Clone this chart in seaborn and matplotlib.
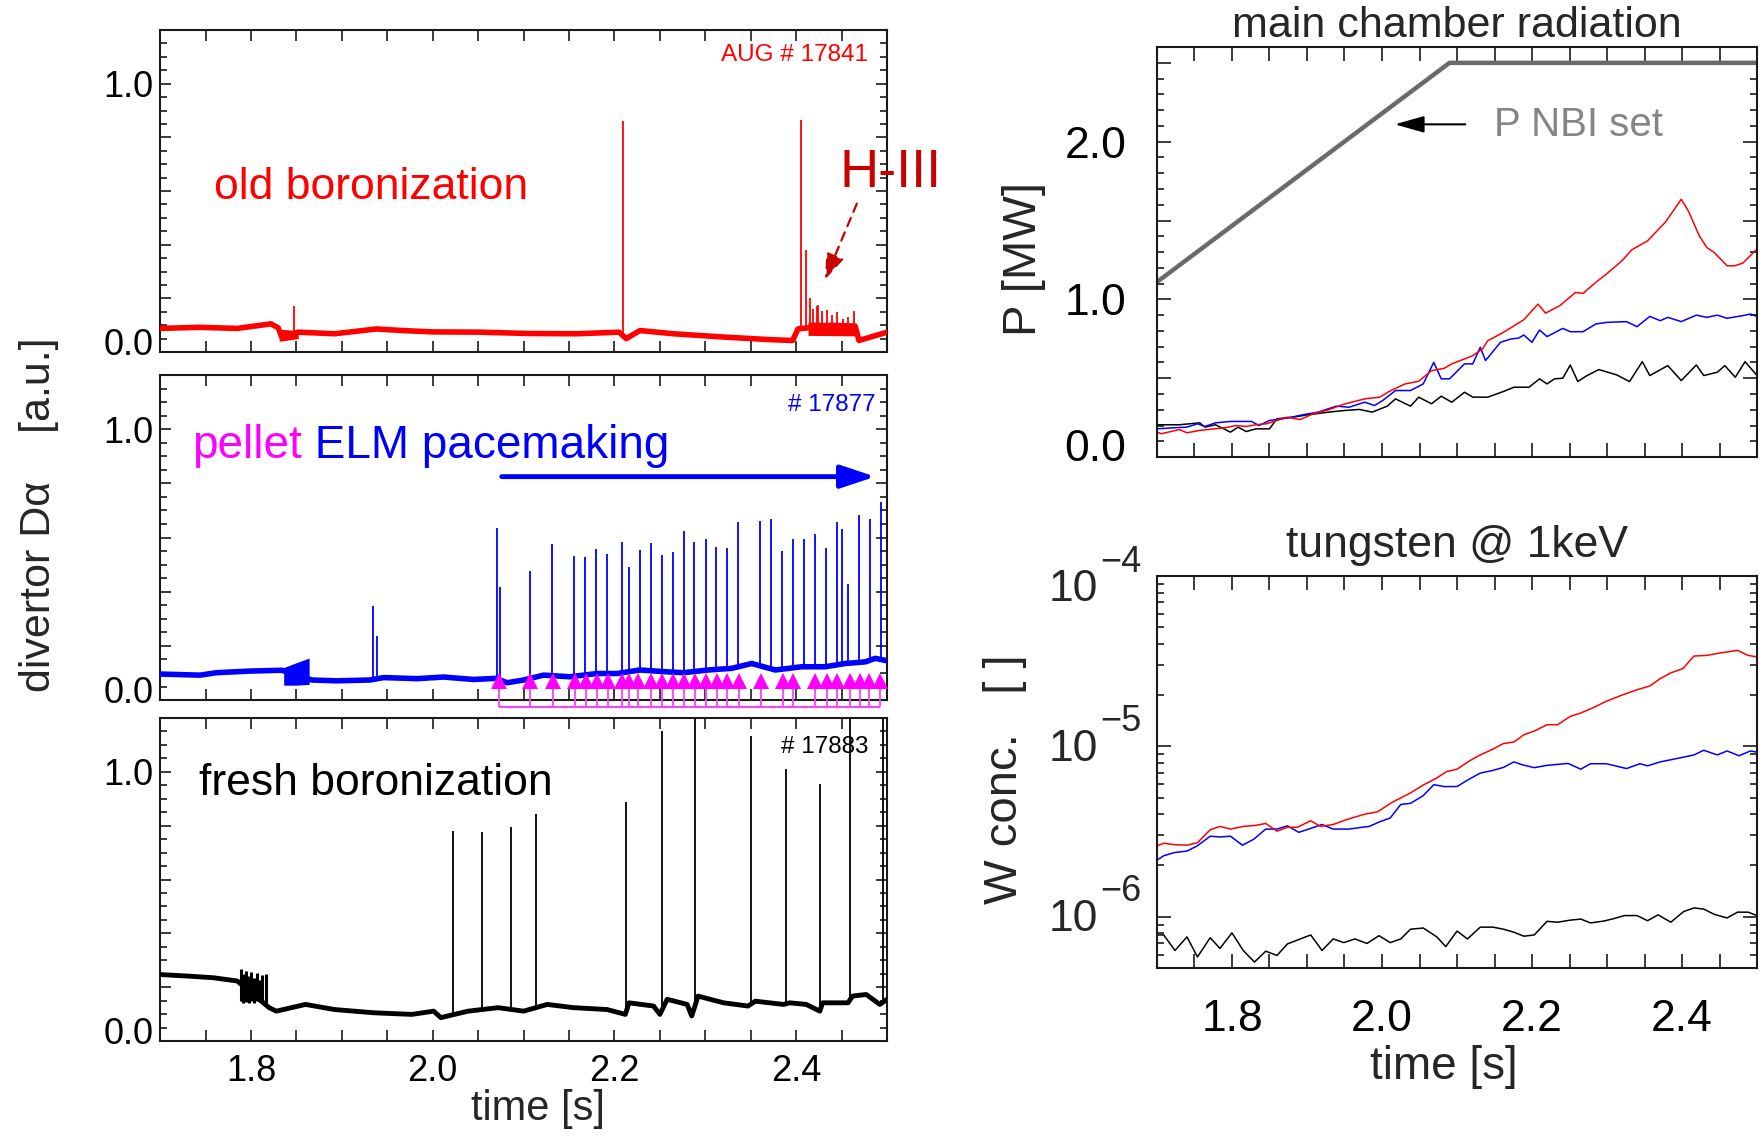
import numpy as np
import matplotlib
matplotlib.use("Agg")
import matplotlib.pyplot as plt
import seaborn as sns
from matplotlib.transforms import ScaledTranslation
from matplotlib.ticker import (FixedLocator, MultipleLocator, FuncFormatter,
                               LogLocator, NullFormatter)

# ------------------------------------------------------------------ data
# --- AUG #17841 (old boronization), divertor D-alpha [a.u.]
red_base_t = [1.700, 1.743, 1.785, 1.822, 1.830, 1.834, 1.852, 1.892, 1.938, 1.967,
              2.000, 2.052, 2.105, 2.159, 2.205, 2.213, 2.228, 2.265, 2.319, 2.372,
              2.396, 2.402, 2.440, 2.465, 2.469, 2.500]
red_base_v = [0.088, 0.092, 0.088, 0.105, 0.090, 0.055, 0.074, 0.068, 0.086, 0.080,
              0.075, 0.074, 0.069, 0.068, 0.074, 0.050, 0.080, 0.068, 0.056, 0.046,
              0.043, 0.086, 0.100, 0.095, 0.043, 0.074]
red_spike_t = [1.847, 2.2093, 2.4053, 2.4105, 2.4153, 2.4182, 2.4226, 2.4244, 2.4281,
               2.4336, 2.4391, 2.4446, 2.4519, 2.4574, 2.4637]
red_spike_v = [0.170, 0.860, 0.866, 0.380, 0.203, 0.160, 0.172, 0.175, 0.153,
               0.157, 0.137, 0.150, 0.122, 0.130, 0.153]
red_burst_t = [1.831, 1.852]
red_burst_lo = [0.040, 0.050]
red_burst_hi = [0.085, 0.080]
red_h3_t = [2.413, 2.466]
red_h3_lo = [0.062, 0.060]
red_h3_hi = [0.112, 0.108]

# --- #17877 (pellet ELM pacemaking)
blue_base_t = [1.700, 1.744, 1.762, 1.799, 1.834, 1.867, 1.894, 1.931, 1.946, 1.983,
               2.012, 2.045, 2.069, 2.082, 2.100, 2.122, 2.151, 2.181, 2.203, 2.228,
               2.254, 2.276, 2.303, 2.329, 2.351, 2.377, 2.406, 2.432, 2.454, 2.476,
               2.487, 2.500]
blue_base_v = [0.096, 0.092, 0.101, 0.107, 0.110, 0.074, 0.071, 0.074, 0.083, 0.079,
               0.085, 0.076, 0.080, 0.064, 0.074, 0.092, 0.086, 0.098, 0.098, 0.111,
               0.105, 0.101, 0.111, 0.117, 0.135, 0.111, 0.123, 0.123, 0.135, 0.141,
               0.154, 0.145]
blue_spike_t = [1.9347, 1.9385, 2.0709, 2.0745, 2.1072, 2.1314, 2.1556, 2.1677, 2.1798,
                2.1915, 2.2081, 2.2157, 2.2282, 2.2400, 2.2521, 2.2642, 2.2763, 2.2876,
                2.3005, 2.3122, 2.3243, 2.3364, 2.3606, 2.3727, 2.3845, 2.3966, 2.4087,
                2.4208, 2.4329, 2.4450, 2.4501, 2.4571, 2.4688, 2.4813, 2.4934]
blue_spike_v = [0.347, 0.236, 0.636, 0.418, 0.478, 0.576, 0.533, 0.527, 0.559,
                0.539, 0.582, 0.490, 0.553, 0.579, 0.535, 0.547, 0.624, 0.585,
                0.593, 0.567, 0.560, 0.659, 0.662, 0.667, 0.551, 0.593, 0.595,
                0.614, 0.560, 0.659, 0.633, 0.427, 0.683, 0.668, 0.730]
blue_burst_t = [1.836, 1.850, 1.864]
blue_burst_lo = [0.055, 0.055, 0.058]
blue_burst_hi = [0.120, 0.138, 0.155]
pellet_t = [2.0727, 2.1074, 2.1319, 2.1561, 2.1689, 2.1806, 2.1927, 2.2088, 2.2165,
            2.2256, 2.2399, 2.2523, 2.2644, 2.2768, 2.2885, 2.3010, 2.3123, 2.3237,
            2.3372, 2.3610, 2.3855, 2.3965, 2.4210, 2.4342, 2.4448, 2.4587, 2.4704,
            2.4806, 2.4927]

# --- #17883 (fresh boronization)
black_base_t = [1.700, 1.732, 1.759, 1.785, 1.820, 1.828, 1.860, 1.892, 1.935, 1.977,
                2.001, 2.009, 2.039, 2.072, 2.100, 2.126, 2.155, 2.192, 2.212, 2.216,
                2.243, 2.250, 2.258, 2.280, 2.285, 2.292, 2.320, 2.347, 2.355, 2.386,
                2.393, 2.411, 2.426, 2.429, 2.457, 2.462, 2.477, 2.492, 2.500]
black_base_v = [0.247, 0.241, 0.235, 0.223, 0.124, 0.111, 0.136, 0.117, 0.105, 0.099,
                0.111, 0.087, 0.111, 0.124, 0.111, 0.136, 0.124, 0.117, 0.099, 0.142,
                0.130, 0.099, 0.155, 0.136, 0.093, 0.167, 0.142, 0.130, 0.148, 0.136,
                0.142, 0.136, 0.111, 0.142, 0.142, 0.167, 0.173, 0.136, 0.155]
black_spike_t = [2.0226, 2.0541, 2.0859, 2.1140, 2.2127, 2.2522, 2.2887, 2.3500,
                 2.3885, 2.4265, 2.4587, 2.4952]
black_spike_v = [0.779, 0.777, 0.795, 0.844, 0.888, 1.150, 1.400, 1.132,
                 1.010, 0.955, 1.400, 1.300]
# oscillating burst around 1.79-1.82 s: individual excursions
black_burst_t = [1.7885, 1.7915, 1.7945, 1.7975, 1.8005, 1.8035, 1.8065, 1.8095,
                 1.8125, 1.8160]
black_burst_lo = [0.150, 0.140, 0.145, 0.140, 0.150, 0.142, 0.150, 0.145, 0.148, 0.130]
black_burst_hi = [0.266, 0.250, 0.262, 0.240, 0.255, 0.235, 0.252, 0.225, 0.245, 0.250]

# --- main chamber radiation [MW]
nbi_t = [1.70, 2.09, 2.50]
nbi_v = [1.11, 2.50, 2.50]

prad_red_t = [1.700, 1.706, 1.730, 1.740, 1.757, 1.778, 1.791, 1.805, 1.819, 1.832,
              1.846, 1.860, 1.874, 1.891, 1.908, 1.929, 1.949, 1.977, 1.997, 2.011,
              2.031, 2.049, 2.066, 2.083, 2.093, 2.121, 2.134, 2.141, 2.162, 2.189,
              2.208, 2.218, 2.237, 2.258, 2.268, 2.285, 2.299, 2.320, 2.333, 2.354,
              2.378, 2.399, 2.409, 2.423, 2.433, 2.443, 2.460, 2.470, 2.481, 2.500]
prad_red_v = [0.158, 0.148, 0.175, 0.154, 0.169, 0.180, 0.186, 0.200, 0.194, 0.205,
              0.211, 0.232, 0.253, 0.238, 0.274, 0.300, 0.335, 0.369, 0.380, 0.420,
              0.464, 0.481, 0.548, 0.563, 0.591, 0.643, 0.686, 0.738, 0.791, 0.871,
              0.970, 0.913, 0.960, 1.044, 1.038, 1.108, 1.160, 1.245, 1.314, 1.371,
              1.491, 1.635, 1.555, 1.403, 1.329, 1.297, 1.213, 1.213, 1.230, 1.320]

prad_blue_t = [1.700, 1.723, 1.740, 1.754, 1.764, 1.778, 1.798, 1.826, 1.836, 1.850,
               1.874, 1.894, 1.915, 1.939, 1.956, 1.977, 1.990, 2.001, 2.018, 2.038,
               2.055, 2.069, 2.079, 2.090, 2.110, 2.121, 2.131, 2.138, 2.158, 2.172,
               2.182, 2.189, 2.200, 2.210, 2.220, 2.241, 2.251, 2.268, 2.285, 2.299,
               2.326, 2.340, 2.357, 2.371, 2.381, 2.399, 2.419, 2.433, 2.447, 2.460,
               2.481, 2.491, 2.500]
prad_blue_v = [0.179, 0.186, 0.190, 0.211, 0.194, 0.217, 0.226, 0.226, 0.200, 0.232,
               0.247, 0.268, 0.285, 0.323, 0.316, 0.348, 0.327, 0.359, 0.422, 0.422,
               0.464, 0.601, 0.496, 0.496, 0.591, 0.591, 0.696, 0.612, 0.728, 0.749,
               0.754, 0.774, 0.728, 0.806, 0.764, 0.816, 0.795, 0.795, 0.844, 0.854,
               0.859, 0.827, 0.892, 0.865, 0.886, 0.859, 0.900, 0.886, 0.900, 0.880,
               0.897, 0.907, 0.892]

prad_black_t = [1.700, 1.730, 1.757, 1.764, 1.778, 1.798, 1.808, 1.819, 1.832, 1.850,
                1.860, 1.881, 1.901, 1.929, 1.949, 1.970, 1.987, 2.007, 2.018, 2.038,
                2.049, 2.066, 2.079, 2.093, 2.110, 2.121, 2.141, 2.162, 2.176, 2.196,
                2.210, 2.220, 2.230, 2.241, 2.251, 2.261, 2.272, 2.289, 2.313, 2.330,
                2.347, 2.357, 2.381, 2.399, 2.419, 2.429, 2.447, 2.457, 2.471, 2.484,
                2.500]
prad_black_v = [0.205, 0.205, 0.217, 0.190, 0.205, 0.158, 0.190, 0.162, 0.179, 0.179,
                0.243, 0.253, 0.268, 0.285, 0.295, 0.302, 0.285, 0.323, 0.369, 0.323,
                0.380, 0.338, 0.386, 0.348, 0.411, 0.380, 0.380, 0.416, 0.443, 0.443,
                0.496, 0.464, 0.496, 0.500, 0.584, 0.479, 0.513, 0.555, 0.521, 0.479,
                0.605, 0.517, 0.580, 0.485, 0.584, 0.517, 0.538, 0.580, 0.506, 0.605,
                0.517]

# --- tungsten concentration @ 1 keV, in units of 1e-6
w_red_t = [1.700, 1.709, 1.723, 1.740, 1.754, 1.771, 1.784, 1.798, 1.815, 1.832,
           1.845, 1.860, 1.874, 1.887, 1.905, 1.918, 1.935, 1.953, 1.977, 1.994,
           2.014, 2.038, 2.055, 2.073, 2.086, 2.100, 2.117, 2.131, 2.148, 2.162,
           2.176, 2.189, 2.203, 2.220, 2.234, 2.251, 2.265, 2.282, 2.299, 2.320,
           2.340, 2.357, 2.371, 2.385, 2.401, 2.416, 2.433, 2.450, 2.474, 2.488,
           2.500]
w_red_v = [2.61, 2.70, 2.65, 2.63, 2.72, 3.24, 3.39, 3.27, 3.39, 3.44,
           3.53, 3.18, 3.35, 3.35, 3.66, 3.39, 3.48, 3.72, 4.00, 4.13,
           4.71, 5.33, 5.93, 6.52, 7.11, 7.35, 8.24, 8.91, 9.64, 10.4,
           10.6, 11.7, 12.3, 13.4, 13.4, 15.0, 15.7, 16.9, 18.4, 20.0,
           21.5, 22.6, 25.0, 27.0, 28.6, 33.9, 34.2, 35.3, 36.6, 34.2,
           33.5]

w_blue_t = [1.700, 1.709, 1.723, 1.740, 1.754, 1.771, 1.784, 1.798, 1.814, 1.829,
            1.845, 1.860, 1.874, 1.889, 1.905, 1.920, 1.935, 1.956, 1.973, 1.983,
            1.997, 2.011, 2.025, 2.038, 2.055, 2.069, 2.083, 2.100, 2.114, 2.131,
            2.148, 2.162, 2.176, 2.186, 2.203, 2.220, 2.248, 2.265, 2.278, 2.299,
            2.326, 2.344, 2.354, 2.371, 2.399, 2.416, 2.429, 2.447, 2.460, 2.476,
            2.491, 2.500]
w_blue_v = [2.15, 2.28, 2.38, 2.43, 2.61, 2.97, 2.94, 2.97, 2.63, 2.85,
            3.27, 3.27, 3.42, 3.13, 3.30, 3.48, 3.27, 3.27, 3.35, 3.39,
            3.61, 3.80, 4.56, 4.63, 5.14, 5.96, 5.81, 5.81, 6.34, 6.97,
            7.23, 7.53, 8.11, 7.82, 7.50, 7.74, 7.94, 7.35, 7.91, 7.91,
            7.41, 7.91, 7.69, 8.11, 8.59, 8.91, 9.49, 8.91, 9.40, 8.81,
            9.40, 9.25]

w_black_t = [1.700, 1.709, 1.724, 1.740, 1.754, 1.771, 1.784, 1.800, 1.815, 1.830,
             1.845, 1.860, 1.874, 1.905, 1.920, 1.935, 1.949, 1.964, 1.980, 1.996,
             2.011, 2.025, 2.038, 2.055, 2.073, 2.085, 2.100, 2.114, 2.131, 2.148,
             2.162, 2.176, 2.189, 2.203, 2.220, 2.234, 2.251, 2.265, 2.278, 2.296,
             2.309, 2.323, 2.340, 2.354, 2.368, 2.385, 2.402, 2.416, 2.429, 2.443,
             2.460, 2.474, 2.488, 2.500]
w_black_v = [0.782, 0.782, 0.634, 0.762, 0.581, 0.753, 0.652, 0.804, 0.634, 0.542,
             0.628, 0.593, 0.693, 0.782, 0.634, 0.741, 0.705, 0.741, 0.697, 0.774,
             0.705, 0.741, 0.845, 0.859, 0.762, 0.668, 0.824, 0.741, 0.869, 0.869,
             0.845, 0.811, 0.769, 0.782, 0.940, 0.929, 0.955, 0.969, 0.920, 0.944,
             0.975, 1.016, 1.016, 0.948, 1.026, 0.929, 1.072, 1.127, 1.109, 1.033,
             0.984, 1.064, 1.064, 1.016]

time_labels = [1.8, 2.0, 2.2, 2.4]
w_decades = [1e-6, 1e-5, 1e-4]
w_exponents = ["\u22126", "\u22125", "\u22124"]

# ------------------------------------------------------------------ style
sns.set_theme(style="ticks")
plt.rcParams["font.family"] = ["Liberation Sans", "DejaVu Sans"]
plt.rcParams["axes.unicode_minus"] = False

RED, BLUE, MAG = "#ff0000", "#0000ff", "#ff00ff"
AXC = "#1a1a1a"

fig = plt.figure(figsize=(17.65, 11.37), dpi=100)
fig.patch.set_facecolor("white")

ax1 = fig.add_axes([0.0907, 0.6904, 0.4119, 0.2832])
ax2 = fig.add_axes([0.0907, 0.3843, 0.4119, 0.2858])
ax3 = fig.add_axes([0.0907, 0.0844, 0.4119, 0.2841])
ax4 = fig.add_axes([0.6555, 0.5980, 0.3400, 0.3606])
ax5 = fig.add_axes([0.6555, 0.1486, 0.3400, 0.3448])


def frame(ax):
    for s in ax.spines.values():
        s.set_visible(True)
        s.set_linewidth(1.5)
        s.set_color(AXC)
    ax.set_facecolor("white")
    ax.set_xlabel("")
    ax.set_ylabel("")


def style_left(ax, show_x):
    frame(ax)
    ax.set_xlim(1.7, 2.5)
    ax.set_ylim(0, 1.2)
    ax.xaxis.set_major_locator(FixedLocator(time_labels))
    ax.xaxis.set_major_formatter(FuncFormatter(lambda v, p: f"{v:.1f}"))
    ax.xaxis.set_minor_locator(MultipleLocator(0.05))
    ax.yaxis.set_major_locator(MultipleLocator(0.2))
    ax.yaxis.set_major_formatter(FuncFormatter(
        lambda v, p: f"{v:.1f}" if (abs(v) < 1e-6 or abs(v - 1) < 1e-6) else ""))
    ax.yaxis.set_minor_locator(MultipleLocator(0.05))
    ax.tick_params(which="both", direction="in", top=True, right=True,
                   width=1.2, color=AXC, labelcolor="black")
    ax.tick_params(axis="x", which="both", length=8, labelsize=26, pad=9,
                   labelbottom=show_x)
    ax.tick_params(axis="y", which="major", length=8, labelsize=26, pad=5)
    ax.tick_params(axis="y", which="minor", length=5)


def trace(ax, bt, bv, st, sv, color, lw_base, lw_spike):
    sns.lineplot(x=bt, y=bv, ax=ax, color=color, linewidth=lw_base,
                 estimator=None, legend=False, zorder=3)
    ax.vlines(st, np.interp(st, bt, bv), sv, color=color, linewidth=lw_spike,
              zorder=3)


# ---- top-left: old boronization
trace(ax1, red_base_t, red_base_v, red_spike_t, red_spike_v, RED, 4.0, 1.3)
ax1.fill_between(red_burst_t, red_burst_lo, red_burst_hi, color=RED, lw=0, zorder=3)
ax1.fill_between(red_h3_t, red_h3_lo, red_h3_hi, color=RED, lw=0, zorder=3)
style_left(ax1, False)
ax1.text(0.074, 0.474, "old boronization", transform=ax1.transAxes, color=RED,
         fontsize=32, va="baseline", ha="left")
ax1.text(0.974, 0.923, "AUG # 17841", transform=ax1.transAxes, color=RED,
         fontsize=17.5, va="center", ha="right")
ax1.text(0.9350, 0.514, "H-III", transform=ax1.transAxes, color="#c80000",
         fontsize=39, va="baseline", ha="left")
ax1.annotate("", xy=(2.4318, 0.271), xytext=(2.4667, 0.553), xycoords="data",
             arrowprops=dict(arrowstyle="-|>,head_length=0.6,head_width=0.22",
                             color="#c80000", lw=1.6, ls=(0, (4, 3)),
                             mutation_scale=26, shrinkA=0, shrinkB=0),
             annotation_clip=False)

# ---- middle-left: pellet ELM pacemaking
trace(ax2, blue_base_t, blue_base_v, blue_spike_t, blue_spike_v, BLUE, 4.0, 1.3)
ax2.fill_between(blue_burst_t, blue_burst_lo, blue_burst_hi, color=BLUE, lw=0, zorder=3)
style_left(ax2, False)
ax2.plot(pellet_t, np.full(len(pellet_t), 0.069), linestyle="none", marker="^",
         markersize=11, color=MAG, markeredgewidth=0, zorder=5, clip_on=False)
ax2.vlines(pellet_t, -0.025, 0.045, color="#ff40ff", linewidth=1.3, zorder=4,
           clip_on=False)
ax2.hlines(-0.025, pellet_t[0], pellet_t[-1], color="#ff40ff", linewidth=1.5,
           zorder=4, clip_on=False)
t1 = ax2.text(0.0446, 0.745, "pellet", transform=ax2.transAxes, color=MAG,
              fontsize=33, va="baseline", ha="left")
ax2.annotate(" ELM pacemaking", xy=(1, 0), xycoords=t1, color=BLUE, fontsize=33,
             va="bottom", ha="left")
ax2.text(0.984, 0.908, "# 17877", transform=ax2.transAxes, color=BLUE,
         fontsize=17.5, va="center", ha="right")
ax2.annotate("", xy=(2.487, 0.825), xytext=(2.076, 0.825),
             arrowprops=dict(arrowstyle="-|>,head_length=0.6,head_width=0.2",
                             color=BLUE, lw=3.5, mutation_scale=35,
                             shrinkA=0, shrinkB=0))

# ---- bottom-left: fresh boronization
trace(ax3, black_base_t, black_base_v, black_spike_t, black_spike_v, "black", 3.5, 1.3)
ax3.vlines(black_burst_t, black_burst_lo, black_burst_hi, color="black",
           linewidth=2.2, zorder=3)
style_left(ax3, True)
ax3.text(0.054, 0.762, "fresh boronization", transform=ax3.transAxes,
         color="black", fontsize=32, va="baseline", ha="left")
ax3.text(0.974, 0.911, "# 17883", transform=ax3.transAxes, color="black",
         fontsize=17.5, va="center", ha="right")

fig.text(0.0223, 0.547, "divertor D\u03b1    [a.u.]", rotation=90, fontsize=31,
         ha="center", va="center")
fig.text(0.305, 0.0246, "time [s]", fontsize=30, ha="center", va="center")


# ---- right panels
def style_right_x(ax, show_x):
    ax.set_xlim(1.7, 2.5)
    ax.xaxis.set_major_locator(FixedLocator(time_labels))
    ax.xaxis.set_major_formatter(FuncFormatter(lambda v, p: f"{v:.1f}"))
    ax.xaxis.set_minor_locator(MultipleLocator(0.05))
    ax.tick_params(which="both", direction="in", top=True, right=True,
                   width=1.2, color=AXC, labelcolor="black")
    ax.tick_params(axis="x", which="both", length=10, labelsize=32, pad=22,
                   labelbottom=show_x)


sns.lineplot(x=nbi_t, y=nbi_v, ax=ax4, color="#6a6a6a", linewidth=3.2,
             estimator=None, legend=False)
sns.lineplot(x=prad_black_t, y=prad_black_v, ax=ax4, color="black", linewidth=1.1,
             estimator=None, legend=False)
sns.lineplot(x=prad_blue_t, y=prad_blue_v, ax=ax4, color=BLUE, linewidth=1.1,
             estimator=None, legend=False)
sns.lineplot(x=prad_red_t, y=prad_red_v, ax=ax4, color=RED, linewidth=1.1,
             estimator=None, legend=False)
frame(ax4)
style_right_x(ax4, False)
ax4.set_ylim(0, 2.6)
ax4.yaxis.set_major_locator(MultipleLocator(0.5))
ax4.yaxis.set_major_formatter(FuncFormatter(
    lambda v, p: f"{v:.1f}" if abs(v - round(v)) < 1e-6 else ""))
ax4.yaxis.set_minor_locator(MultipleLocator(0.1))
ax4.tick_params(axis="y", which="major", length=10, labelsize=32, pad=22)
ax4.tick_params(axis="y", which="minor", length=5)
ax4.set_title("main chamber radiation", fontsize=31, pad=7)
ax4.annotate("", xy=(2.017, 2.11), xytext=(2.111, 2.11),
             arrowprops=dict(arrowstyle="-|>,head_length=0.6,head_width=0.17",
                             color="black", lw=1.5, mutation_scale=30,
                             shrinkA=0, shrinkB=0))
ax4.text(2.149, 2.035, "P NBI set", color="#858585", fontsize=29,
         va="baseline", ha="left")

sns.lineplot(x=w_black_t, y=np.array(w_black_v) * 1e-6, ax=ax5, color="black",
             linewidth=1.1, estimator=None, legend=False)
sns.lineplot(x=w_blue_t, y=np.array(w_blue_v) * 1e-6, ax=ax5, color=BLUE,
             linewidth=1.1, estimator=None, legend=False)
sns.lineplot(x=w_red_t, y=np.array(w_red_v) * 1e-6, ax=ax5, color=RED,
             linewidth=1.1, estimator=None, legend=False)
frame(ax5)
ax5.set_yscale("log")
ax5.set_ylim(5e-7, 1e-4)
style_right_x(ax5, True)
ax5.yaxis.set_major_locator(FixedLocator(w_decades))
ax5.yaxis.set_major_formatter(NullFormatter())
ax5.yaxis.set_minor_locator(LogLocator(base=10, subs=np.arange(2, 10)))
ax5.yaxis.set_minor_formatter(NullFormatter())
ax5.tick_params(axis="y", which="major", length=10)
ax5.tick_params(axis="y", which="minor", length=5)
ax5.set_title("tungsten @ 1keV", fontsize=32, pad=14)
# IDL-style decade labels: "10" with a large raised exponent
for dec, ex in zip(w_decades, w_exponents):
    dy = -10 if dec == w_decades[-1] else -2
    ax5.annotate("10", xy=(0, dec), xycoords=("axes fraction", "data"),
                 xytext=(-42.5, dy), textcoords="offset points", fontsize=32,
                 ha="right", va="center", annotation_clip=False)
    ax5.annotate(ex, xy=(0, dec), xycoords=("axes fraction", "data"),
                 xytext=(-11, dy + 20), textcoords="offset points", fontsize=26,
                 ha="right", va="center", annotation_clip=False)

fig.text(0.580, 0.772, "P [MW]", rotation=90, fontsize=34, ha="center", va="center")
fig.text(0.5695, 0.315, "W conc.   [ ]", rotation=90, fontsize=34, ha="center",
         va="center")
fig.text(0.818, 0.0615, "time [s]", fontsize=33, ha="center", va="center")

# lift the "0.0" labels that sit on the bottom edge (as in the original)
fig.canvas.draw()
for ax, lift in ((ax1, 0.11), (ax2, 0.11), (ax3, 0.11), (ax4, 0.12)):
    for lab in ax.get_yticklabels():
        if lab.get_text() == "0.0":
            lab.set_transform(lab.get_transform()
                              + ScaledTranslation(0, lift, fig.dpi_scale_trans))

fig.savefig("out.png", dpi=100, facecolor="white")
